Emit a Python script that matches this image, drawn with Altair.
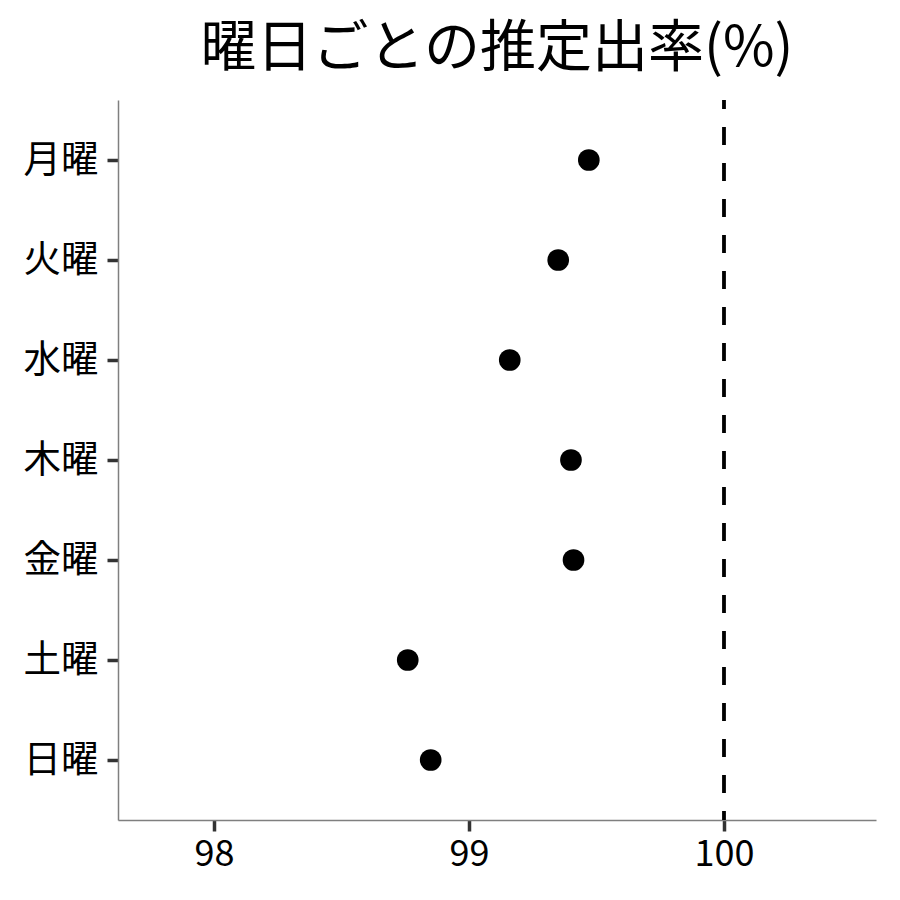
import altair as alt
import pandas as pd

days = ["月曜", "火曜", "水曜", "木曜", "金曜", "土曜", "日曜"]
rates = [99.47, 99.35, 99.16, 99.40, 99.41, 98.76, 98.85]
ref_value = [100]
x_ticks = [98, 99, 100]

df = pd.DataFrame({"day": days, "rate": rates})
ref = pd.DataFrame({"x": ref_value})

FONT = "Noto Sans CJK JP"

x_scale = alt.Scale(domain=[97.624, 100.596], nice=False, zero=False)

points = alt.Chart(df).mark_circle(size=470, color="black", opacity=1).encode(
    x=alt.X("rate:Q", scale=x_scale,
            axis=alt.Axis(values=x_ticks, title=None, grid=False, format="d",
                          domainColor="#7f7f7f", domainWidth=1.5,
                          tickColor="#333333", tickWidth=3.5, tickSize=11,
                          labelFontSize=36, labelColor="black", labelFont=FONT,
                          labelPadding=6)),
    y=alt.Y("day:N", sort=days, scale=alt.Scale(type="point", padding=0.6),
            axis=alt.Axis(title=None, grid=False,
                          domainColor="#7f7f7f", domainWidth=1.5,
                          tickColor="#333333", tickWidth=3.5, tickSize=11,
                          labelFontSize=37.5, labelColor="black", labelFont=FONT,
                          labelPadding=9)),
)

rule = alt.Chart(ref).mark_rule(color="black", strokeWidth=3.8,
                                strokeDash=[18, 18], strokeDashOffset=9).encode(
    x=alt.X("x:Q", scale=x_scale)
)

chart = alt.layer(rule, points).properties(
    width=758,
    height=720,
    autosize=alt.AutoSizeParams(type="none"),
    padding={"left": 110, "top": 92, "right": 16, "bottom": 72},
    title=alt.TitleParams("曜日ごとの推定出率(%)", fontSize=56, font=FONT,
                          fontWeight="normal", color="black", anchor="middle",
                          offset=20),
).configure(background="white").configure_view(strokeWidth=0, stroke=None)

chart.save("out.html", embed_options={"renderer": "svg", "actions": False})
